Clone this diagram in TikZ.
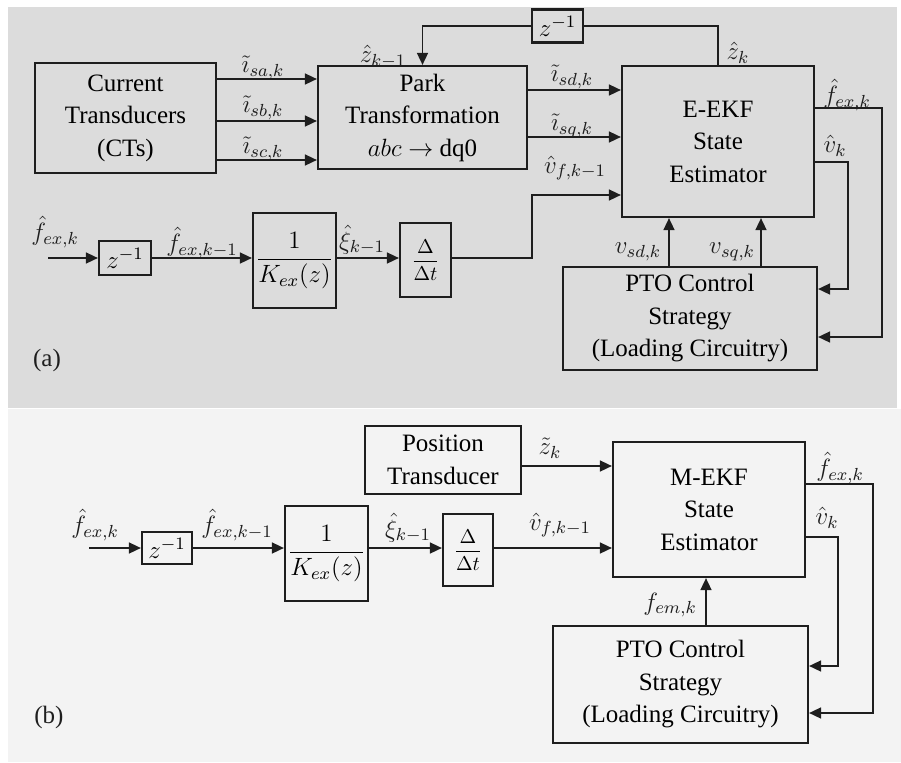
\documentclass[tikz,border=0pt]{standalone}
\usepackage{fix-cm}
\usepackage{amsmath}
\usepackage{fontspec}
\setmainfont{Liberation Serif}
\usetikzlibrary{arrows.meta}
\definecolor{bga}{HTML}{DCDCDC}
\definecolor{bgb}{HTML}{F3F3F3}
\definecolor{ink}{HTML}{1E1E1E}
\newcommand{\dtxt}{\fontsize{12.5}{16.25}\selectfont}
\begin{document}
\begin{tikzpicture}[x=0.5pt,y=-0.5pt,
  blk/.style={draw=ink,line width=1.1pt,inner sep=0pt,align=center,font=\dtxt},
  arr/.style={draw=ink,line width=0.8pt,-{Triangle[length=6pt,width=5.5pt]}},
  ln/.style={draw=ink,line width=0.8pt},
  lbl/.style={inner sep=0pt,font=\dtxt,text=ink}]
\useasboundingbox (0,0) rectangle (901,762);
\fill[white] (0,0) rectangle (901,762);
\fill[bga] (8,7) rectangle (897,408);
\fill[bgb] (8,409) rectangle (901,762);

% ---------------- panel (a)
\node[blk,minimum width=90.5pt,minimum height=55pt] (ct) at (125.5,118) {Current\\Transducers\\(CTs)};
\node[blk,minimum width=104.5pt,minimum height=51.5pt] (park) at (422.5,117.5) {Park\\Transformation\\$abc\rightarrow$ dq0};
\node[blk,minimum width=25.5pt,minimum height=16.5pt] (zt) at (557.5,26) {$z^{-1}$};
\node[blk,minimum width=96pt,minimum height=75.5pt] (eekf) at (718,141.5) {E-EKF\\State\\Estimator};
\node[blk,minimum width=127pt,minimum height=51.5pt] (ptoa) at (690,318.5) {PTO Control\\Strategy\\(Loading Circuitry)};
\node[blk,minimum width=26pt,minimum height=17pt] (za) at (125,258) {$z^{-1}$};
\node[blk,minimum width=41.5pt,minimum height=47.5pt] (ka) at (294.5,260.5) {$\dfrac{1}{K_{ex}(z)}$};
\node[blk,minimum width=25.5pt,minimum height=37pt] (da) at (425.5,260) {\fontsize{10}{12}\selectfont$\dfrac{\Delta}{\Delta t}$};

\coordinate (ya1) at (0,79);
\coordinate (ya2) at (0,121);
\coordinate (ya3) at (0,160);
\coordinate (yb1) at (0,90);
\coordinate (yb2) at (0,137);
\coordinate (vbend) at (532,195);
\coordinate (ina) at (48,258);
\coordinate (xs1) at (669,0);
\coordinate (xs2) at (761,0);
\coordinate (fa1) at (882,108);
\coordinate (fa2) at (882,337);
\coordinate (va1) at (848,162);
\coordinate (va2) at (848,289);

\draw[arr] (ct.east|-ya1) -- (park.west|-ya1);
\draw[arr] (ct.east|-ya2) -- (park.west|-ya2);
\draw[arr] (ct.east|-ya3) -- (park.west|-ya3);
\draw[arr] (park.east|-yb1) -- (eekf.west|-yb1);
\draw[arr] (park.east|-yb2) -- (eekf.west|-yb2);
\draw[ln] (eekf.north) |- (zt.east);
\draw[arr] (zt.west) -| (park.north);
\draw[arr] (ina) -- (za.west);
\draw[arr] (za.east) -- (ka.west|-za.east);
\draw[arr] (ka.east|-za.east) -- (da.west|-za.east);
\draw[arr] (da.east|-za.east) -| (vbend) -- (eekf.west|-vbend);
\draw[arr] (ptoa.north-|xs1) -- (eekf.south-|xs1);
\draw[arr] (ptoa.north-|xs2) -- (eekf.south-|xs2);
\draw[arr] (eekf.east|-fa1) -- (fa1) -- (fa2) -- (ptoa.east|-fa2);
\draw[arr] (eekf.east|-va1) -- (va1) -- (va2) -- (ptoa.east|-va2);

\node[lbl] (la1) at (263,68) {$\tilde{\imath}_{sa,k}$};
\node[lbl] (la2) at (263,108) {$\tilde{\imath}_{sb,k}$};
\node[lbl] (la3) at (263,149) {$\tilde{\imath}_{sc,k}$};
\node[lbl] (la4) at (383,57) {$\hat{z}_{k-1}$};
\node[lbl] (la5) at (738,53) {$\hat{z}_{k}$};
\node[lbl] (la6) at (572,77) {$\tilde{\imath}_{sd,k}$};
\node[lbl] (la7) at (572,126) {$\tilde{\imath}_{sq,k}$};
\node[lbl] (la8) at (575,168) {$\hat{v}_{f,k-1}$};
\node[lbl] (la9) at (847,95) {$\hat{f}_{ex,k}$};
\node[lbl] (la10) at (835,146) {$\hat{v}_{k}$};
\node[lbl] (la11) at (638,252) {$v_{sd,k}$};
\node[lbl] (la12) at (732,252) {$v_{sq,k}$};
\node[lbl] (la13) at (55,232) {$\hat{f}_{ex,k}$};
\node[lbl] (la14) at (202,243) {$\hat{f}_{ex,k-1}$};
\node[lbl] (la15) at (362,240) {$\hat{\xi}_{k-1}$};
\node[lbl] (pa) at (47,360) {(a)};

% ---------------- panel (b)
\node[blk,minimum width=78pt,minimum height=34pt] (pos) at (443,460) {Position\\Transducer};
\node[blk,minimum width=96pt,minimum height=67.5pt] (mekf) at (709,509.5) {M-EKF\\State\\Estimator};
\node[blk,minimum width=127.5pt,minimum height=58.5pt] (ptob) at (680.5,684.5) {PTO Control\\Strategy\\(Loading Circuitry)};
\node[blk,minimum width=25pt,minimum height=16pt] (zb) at (167,548) {$z^{-1}$};
\node[blk,minimum width=41.5pt,minimum height=47.5pt] (kb) at (326.5,553.5) {$\dfrac{1}{K_{ex}(z)}$};
\node[blk,minimum width=25pt,minimum height=36pt] (db) at (468,550) {\fontsize{10}{12}\selectfont$\dfrac{\Delta}{\Delta t}$};

\coordinate (yp) at (0,466);
\coordinate (inb) at (89,548);
\coordinate (xf) at (706,0);
\coordinate (fb1) at (873,484);
\coordinate (fb2) at (873,713);
\coordinate (vb1) at (838,537);
\coordinate (vb2) at (838,666);

\draw[arr] (pos.east|-yp) -- (mekf.west|-yp);
\draw[arr] (inb) -- (zb.west);
\draw[arr] (zb.east) -- (kb.west|-zb.east);
\draw[arr] (kb.east|-zb.east) -- (db.west|-zb.east);
\draw[arr] (db.east|-zb.east) -- (mekf.west|-zb.east);
\draw[arr] (ptob.north-|xf) -- (mekf.south-|xf);
\draw[arr] (mekf.east|-fb1) -- (fb1) -- (fb2) -- (ptob.east|-fb2);
\draw[arr] (mekf.east|-vb1) -- (vb1) -- (vb2) -- (ptob.east|-vb2);

\node[lbl] (lb1) at (550,448) {$\tilde{z}_{k}$};
\node[lbl] (lb2) at (95,525) {$\hat{f}_{ex,k}$};
\node[lbl] (lb3) at (237,525) {$\hat{f}_{ex,k-1}$};
\node[lbl] (lb4) at (408,528) {$\hat{\xi}_{k-1}$};
\node[lbl] (lb5) at (560,525) {$\hat{v}_{f,k-1}$};
\node[lbl] (lb6) at (670,605) {$f_{em,k}$};
\node[lbl] (lb7) at (840,468) {$\hat{f}_{ex,k}$};
\node[lbl] (lb8) at (827,518) {$\hat{v}_{k}$};
\node[lbl] (pb) at (49,717) {(b)};
\end{tikzpicture}
\end{document}
